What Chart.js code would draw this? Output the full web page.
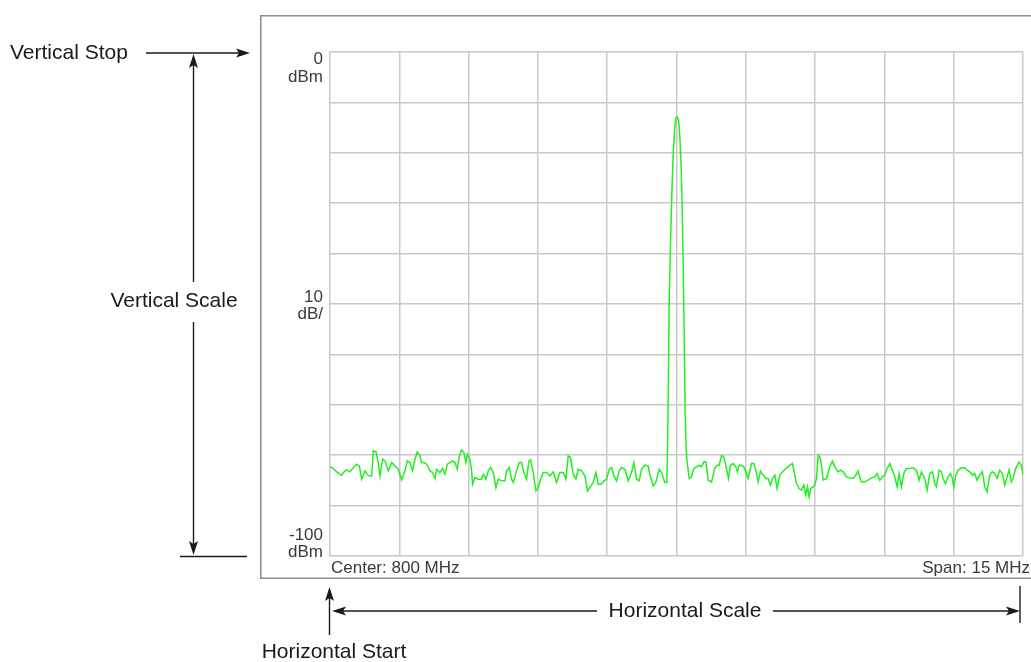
<!DOCTYPE html>
<html>
<head>
<meta charset="utf-8">
<script src="https://cdn.jsdelivr.net/npm/chart.js@4/dist/chart.umd.min.js"></script>
<style>
  html, body { margin: 0; padding: 0; background: #ffffff; }
  #wrap { width: 1031px; height: 662px; position: relative; }
</style>
</head>
<body>
<div id="wrap"><canvas id="c" width="1031" height="662"></canvas></div>
<script>
// ---- data ----
const freqMHz = [
792.500,792.572,792.644,792.716,792.752,792.788,792.861,792.933,793.005,793.077,
793.135,793.185,793.257,793.329,793.401,793.438,793.495,793.546,793.582,793.640,
793.690,793.762,793.834,793.906,793.978,794.051,794.123,794.173,794.231,794.288,
794.339,794.389,794.447,794.483,794.534,794.591,794.664,794.721,794.772,794.808,
794.880,794.937,794.988,795.039,795.096,795.154,795.204,795.255,795.298,795.349,
795.399,795.442,795.471,795.529,795.565,795.587,795.637,795.709,795.781,795.817,
795.875,795.926,795.976,796.034,796.091,796.142,796.214,796.286,796.322,796.380,
796.430,796.467,796.539,796.596,796.647,796.697,796.755,796.806,796.842,796.899,
796.957,797.007,797.058,797.116,797.188,797.260,797.332,797.404,797.476,797.548,
797.606,797.656,797.707,797.765,797.822,797.873,797.945,798.017,798.075,798.125,
798.198,798.255,798.306,798.378,798.428,798.486,798.544,798.594,798.645,798.702,
798.760,798.810,798.883,798.955,799.027,799.077,799.135,799.193,799.243,799.315,
799.387,799.423,799.495,799.553,799.625,799.676,799.748,799.790,799.805,799.820,
799.841,799.871,799.900,799.928,799.958,799.986,800.014,800.045,800.073,800.101,
800.123,800.144,800.166,800.187,800.210,800.217,800.231,800.275,800.325,800.376,
800.433,800.491,800.541,800.592,800.635,800.686,800.758,800.830,800.880,800.924,
800.974,801.025,801.082,801.126,801.169,801.227,801.284,801.320,801.356,801.407,
801.457,801.501,801.551,801.623,801.674,801.717,801.767,801.818,801.876,801.933,
801.984,802.034,802.078,802.128,802.178,802.236,802.294,802.366,802.453,802.510,
802.561,802.597,802.655,802.705,802.755,802.799,802.835,802.871,802.907,802.957,
802.993,803.030,803.066,803.102,803.138,803.174,803.246,803.318,803.376,803.426,
803.498,803.549,803.607,803.679,803.751,803.823,803.880,803.931,804.003,804.075,
804.147,804.219,804.292,804.342,804.400,804.457,804.508,804.558,804.616,804.674,
804.724,804.775,804.818,804.868,804.919,804.977,805.049,805.121,805.193,805.251,
805.301,805.373,805.424,805.481,805.539,805.590,805.626,805.684,805.734,805.770,
805.821,805.878,805.929,805.972,806.001,806.044,806.095,806.167,806.239,806.289,
806.347,806.405,806.455,806.506,806.563,806.621,806.672,806.722,806.780,806.837,
806.888,806.938,806.996,807.054,807.104,807.155,807.198,807.248,807.284,807.342,
807.414,807.465,807.500
];
const levelDbm = [
-82.25,-82.65,-83.31,-83.77,-83.97,-83.44,-82.91,-83.31,-82.45,-81.79,
-82.12,-84.76,-83.11,-84.10,-84.10,-79.14,-79.34,-81.46,-84.10,-80.79,
-81.12,-83.11,-81.46,-82.12,-82.78,-84.89,-83.11,-81.12,-81.46,-83.11,
-80.79,-79.34,-80.13,-81.46,-81.46,-81.79,-83.11,-83.44,-84.63,-82.78,
-83.44,-82.65,-83.77,-81.79,-81.46,-81.12,-81.46,-82.78,-80.13,-78.94,
-79.47,-81.46,-79.80,-80.79,-83.11,-85.75,-84.43,-84.76,-84.76,-83.77,
-84.76,-83.11,-82.45,-83.44,-86.42,-84.76,-85.09,-85.09,-83.11,-82.45,
-84.76,-85.42,-83.11,-81.46,-81.46,-83.44,-84.76,-81.12,-80.93,-83.44,
-87.08,-86.42,-84.76,-83.44,-83.44,-84.10,-83.31,-85.42,-83.44,-83.44,
-84.76,-80.13,-80.46,-83.77,-84.76,-82.78,-83.11,-84.10,-87.08,-86.42,
-85.42,-83.44,-85.75,-85.75,-85.09,-84.76,-82.78,-82.45,-84.10,-85.09,
-83.11,-82.45,-82.78,-85.09,-83.44,-81.46,-84.76,-85.09,-82.78,-81.98,
-82.12,-83.77,-86.08,-85.42,-82.78,-83.44,-85.42,-85.42,-79.10,-69.00,
-49.80,-37.70,-27.80,-20.40,-15.50,-13.10,-12.90,-13.50,-16.90,-22.80,
-31.00,-41.90,-55.80,-71.40,-79.00,-80.00,-81.32,-84.63,-84.30,-82.65,
-82.31,-81.98,-82.31,-81.32,-81.32,-84.96,-85.29,-82.65,-81.98,-81.98,
-80.13,-80.33,-82.65,-84.63,-81.98,-81.65,-82.31,-83.31,-81.98,-81.98,
-82.31,-83.31,-84.63,-81.65,-81.65,-82.98,-85.29,-83.17,-83.97,-84.63,
-84.63,-85.95,-84.63,-83.97,-86.61,-83.97,-83.31,-82.65,-81.98,-81.65,
-83.97,-85.62,-86.61,-86.94,-85.95,-87.94,-86.28,-88.27,-86.61,-86.28,
-85.95,-84.63,-80.00,-80.33,-81.98,-84.96,-84.63,-82.31,-81.19,-82.31,
-83.31,-82.98,-83.31,-84.30,-84.50,-84.63,-83.97,-83.17,-85.29,-85.29,
-84.96,-84.50,-84.30,-83.64,-84.96,-84.30,-83.97,-82.65,-81.65,-82.98,
-84.30,-86.28,-83.64,-86.28,-83.64,-82.65,-82.65,-82.51,-82.98,-84.96,
-83.31,-84.63,-86.94,-83.64,-83.31,-85.62,-86.28,-82.98,-83.31,-84.63,
-85.62,-84.30,-83.64,-84.63,-86.28,-83.97,-82.98,-82.51,-82.51,-82.98,
-83.31,-83.97,-83.64,-84.96,-83.97,-83.31,-86.28,-87.28,-83.97,-83.31,
-83.64,-84.63,-82.98,-83.64,-85.95,-84.30,-82.98,-85.29,-84.63,-82.65,
-81.32,-81.98,-83.97
];
const centerMHz = 800;
const spanMHz = 15;
const refLevelDbm = 0;
const dbPerDiv = 10;
const divisions = 10;
const yTickLabels = [["0", "dBm"], ["10", "dB/"], ["-100", "dBm"]];
const footerLabels = ["Center: 800 MHz", "Span: 15 MHz"];
const annotationLabels = ["Vertical Stop", "Vertical Scale", "Horizontal Scale", "Horizontal Start"];

// ---- derived axis limits ----
const xMin = centerMHz - spanMHz / 2;
const xMax = centerMHz + spanMHz / 2;
const yMax = refLevelDbm;
const yMin = refLevelDbm - dbPerDiv * divisions;

const GRID = '#c9c9c9';
const INK = '#1a1a1a';
const TICKINK = '#3a3a3a';

function arrowHead(ctx, x, y, dir) {
  // dir: 'up','down','left','right' ; (x,y) is the tip
  const L = 14, W = 4.5;
  ctx.beginPath();
  if (dir === 'right') { ctx.moveTo(x, y); ctx.lineTo(x - L, y - W); ctx.lineTo(x - L + 3, y); ctx.lineTo(x - L, y + W); }
  if (dir === 'left')  { ctx.moveTo(x, y); ctx.lineTo(x + L, y - W); ctx.lineTo(x + L - 3, y); ctx.lineTo(x + L, y + W); }
  if (dir === 'up')    { ctx.moveTo(x, y); ctx.lineTo(x - W, y + L); ctx.lineTo(x, y + L - 3); ctx.lineTo(x + W, y + L); }
  if (dir === 'down')  { ctx.moveTo(x, y); ctx.lineTo(x - W, y - L); ctx.lineTo(x, y - L + 3); ctx.lineTo(x + W, y - L); }
  ctx.closePath();
  ctx.fill();
}
function seg(ctx, x1, y1, x2, y2) {
  ctx.beginPath(); ctx.moveTo(x1, y1); ctx.lineTo(x2, y2); ctx.stroke();
}

const overlay = {
  id: 'overlay',
  beforeDraw(chart) {
    const ctx = chart.ctx;
    ctx.save();
    ctx.fillStyle = '#ffffff';
    ctx.fillRect(0, 0, chart.width, chart.height);
    ctx.restore();
  },
  afterDraw(chart) {
    const ctx = chart.ctx;
    const xs = chart.scales.x, ys = chart.scales.y;
    const ca = chart.chartArea;
    ctx.save();
    // outer frame of the instrument screen
    ctx.strokeStyle = '#8c8c8c';
    ctx.lineWidth = 1.5;
    ctx.strokeRect(260.75, 15.75, 800, 562.5);

    // y tick labels
    ctx.fillStyle = TICKINK;
    ctx.font = '17px "Liberation Sans", Arial, sans-serif';
    ctx.textAlign = 'right';
    ctx.textBaseline = 'middle';
    const yTop = ys.getPixelForValue(yMax);
    const yMid = ys.getPixelForValue((yMax + yMin) / 2);
    const yBot = ys.getPixelForValue(yMin);
    const lx = ca.left - 7;
    ctx.fillText(yTickLabels[0][0], lx, yTop + 7);
    ctx.fillText(yTickLabels[0][1], lx, yTop + 25);
    ctx.fillText(yTickLabels[1][0], lx, yMid - 7);
    ctx.fillText(yTickLabels[1][1], lx, yMid + 10);
    ctx.fillText(yTickLabels[2][0], lx, yBot - 21);
    ctx.fillText(yTickLabels[2][1], lx, yBot - 4);

    // footer labels
    ctx.textAlign = 'left';
    ctx.fillText(footerLabels[0], ca.left + 1, yBot + 12);
    ctx.textAlign = 'right';
    ctx.fillText(footerLabels[1], 1030, yBot + 12);

    // annotations
    ctx.fillStyle = INK;
    ctx.strokeStyle = INK;
    ctx.lineWidth = 1.4;
    ctx.font = '21px "Liberation Sans", Arial, sans-serif';
    ctx.textBaseline = 'middle';

    // Vertical Stop
    ctx.textAlign = 'left';
    ctx.fillText(annotationLabels[0], 10, yTop + 1);
    seg(ctx, 146, yTop + 1, 240, yTop + 1);
    arrowHead(ctx, 250, yTop + 1, 'right');

    // Vertical Scale
    const vx = 193.5;
    seg(ctx, vx, yTop + 12, vx, 282);
    seg(ctx, vx, 322, vx, yBot - 10);
    arrowHead(ctx, vx, yTop + 2, 'up');
    arrowHead(ctx, vx, yBot - 1, 'down');
    seg(ctx, 180, yBot + 0.5, 247, yBot + 0.5);
    ctx.textAlign = 'center';
    ctx.fillText(annotationLabels[1], 174, 301);

    // Horizontal Scale
    const hy = 611;
    const x0 = xs.getPixelForValue(xMin);
    const x1 = xs.getPixelForValue(xMax);
    seg(ctx, x0 + 10, hy, 597, hy);
    seg(ctx, 773, hy, x1 - 12, hy);
    arrowHead(ctx, x0 + 2, hy, 'left');
    arrowHead(ctx, x1 - 3, hy, 'right');
    ctx.fillText(annotationLabels[2], 685, hy);
    // end ticks
    seg(ctx, x0 - 0.5, 598, x0 - 0.5, 635);
    arrowHead(ctx, x0 - 0.5, 587, 'up');
    seg(ctx, x1 - 3, 586, x1 - 3, 623);

    // Horizontal Start
    ctx.fillText(annotationLabels[3], 334, 652);
    ctx.restore();
  }
};

new Chart(document.getElementById('c'), {
  type: 'line',
  data: {
    datasets: [{
      data: freqMHz.map((f, i) => ({ x: f, y: levelDbm[i] })),
      borderColor: '#22ee22',
      borderWidth: 1.5,
      pointRadius: 0,
      tension: 0,
      fill: false
    }]
  },
  options: {
    responsive: false,
    animation: false,
    devicePixelRatio: 1,
    layout: { padding: { left: 330, top: 52, right: 8, bottom: 106 } },
    plugins: { legend: { display: false }, tooltip: { enabled: false }, title: { display: false } },
    scales: {
      x: {
        type: 'linear', min: xMin, max: xMax,
        afterBuildTicks: s => { s.ticks = Array.from({ length: divisions + 1 }, (_, i) => ({ value: xMin + i * spanMHz / divisions })); },
        afterFit: s => { s.height = 0; },
        ticks: { display: false },
        grid: { color: GRID, lineWidth: 1.5, drawTicks: false },
        border: { display: false }
      },
      y: {
        type: 'linear', min: yMin, max: yMax,
        afterFit: s => { s.width = 0; },
        ticks: { display: false, stepSize: dbPerDiv },
        grid: { color: GRID, lineWidth: 1.5, drawTicks: false },
        border: { display: false }
      }
    }
  },
  plugins: [overlay]
});
</script>
</body>
</html>
